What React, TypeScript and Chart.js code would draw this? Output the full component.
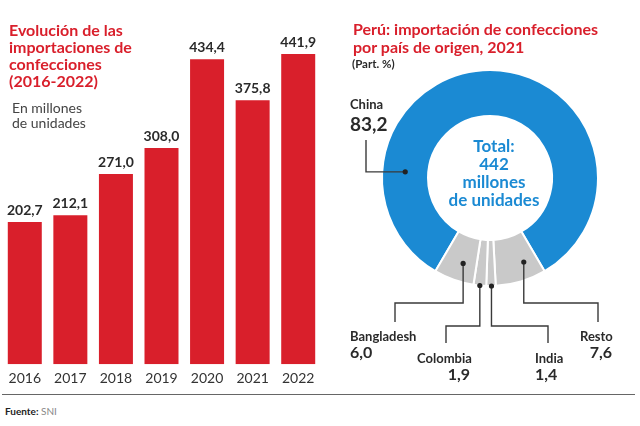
import React, { useEffect, useRef } from "react";
import { Chart, registerables } from "chart.js";
Chart.register(...registerables);

const years = ["2016", "2017", "2018", "2019", "2020", "2021", "2022"];
const imports = [202.7, 212.1, 271.0, 308.0, 434.4, 375.8, 441.9];
const countries = ["China", "Resto", "India", "Colombia", "Bangladesh"];
const shares = [83.2, 7.6, 1.4, 1.9, 6.0];
const totalMillions = 442;

const RED = "#d91f2b";
const BLUE = "#1b8ad3";
const GRAY = "#c9c9c9";
const INK = "#2a2a2a";
const FONT = "Lato, 'Open Sans', sans-serif";

const fmt = (v: number) => v.toFixed(1).replace(".", ",");

// leader-line layout (canvas coordinates of the doughnut canvas)
type Leg = ["h" | "v", number];
const leaders: {
  frac: number;
  radial: number;
  legs: Leg[];
  name: [number, number];
  value: [number, number];
  valueAlign: CanvasTextAlign;
  valueSize: number;
}[] = [
  { frac: 0.213, radial: 0.5, legs: [["h", 46], ["v", 140]], name: [30, 105], value: [30, 125], valueAlign: "left", valueSize: 19 },
  { frac: 0.31, radial: 0.62, legs: [["v", 303], ["h", 278], ["v", 322]], name: [260, 337], value: [292, 353], valueAlign: "right", valueSize: 16 },
  { frac: 0.45, radial: 1.0, legs: [["v", 326], ["h", 228], ["v", 343]], name: [215, 359], value: [215, 375], valueAlign: "left", valueSize: 16 },
  { frac: 0.5, radial: 1.0, legs: [["v", 326], ["h", 126], ["v", 343]], name: [97, 359], value: [150, 375], valueAlign: "right", valueSize: 16 },
  { frac: 0.4, radial: 0.6, legs: [["v", 303], ["h", 75], ["v", 322]], name: [30, 337], value: [30, 353], valueAlign: "left", valueSize: 16 },
];

const barLabels = {
  id: "barLabels",
  afterDatasetsDraw(chart: any) {
    const ctx = chart.ctx;
    const meta = chart.getDatasetMeta(0);
    ctx.save();
    ctx.font = `bold 14px ${FONT}`;
    ctx.fillStyle = INK;
    ctx.textAlign = "center";
    ctx.textBaseline = "alphabetic";
    meta.data.forEach((bar: any, i: number) => {
      ctx.fillText(fmt(imports[i]), bar.x, bar.y - 7);
    });
    ctx.restore();
  },
};

const donutDecor = {
  id: "donutDecor",
  afterDatasetsDraw(chart: any) {
    const ctx = chart.ctx;
    const meta = chart.getDatasetMeta(0);
    ctx.save();
    let cx = 0;
    let cy = 0;
    meta.data.forEach((arc: any, i: number) => {
      const p = arc.getProps(["x", "y", "startAngle", "endAngle", "innerRadius", "outerRadius"], true);
      cx = p.x;
      cy = p.y;
      const L = leaders[i];
      const a = p.startAngle + L.frac * (p.endAngle - p.startAngle);
      const r = p.innerRadius + L.radial * (p.outerRadius - p.innerRadius);
      const dx = p.x + r * Math.cos(a);
      const dy = p.y + r * Math.sin(a);
      ctx.strokeStyle = "#3a3a3a";
      ctx.lineWidth = 1.4;
      ctx.beginPath();
      ctx.moveTo(dx, dy);
      let px = dx;
      let py = dy;
      L.legs.forEach(([dir, v]) => {
        if (dir === "h") px = v;
        else py = v;
        ctx.lineTo(px, py);
      });
      ctx.stroke();
      ctx.fillStyle = "#222";
      ctx.beginPath();
      ctx.arc(dx, dy, 2.6, 0, Math.PI * 2);
      ctx.fill();
      ctx.textBaseline = "middle";
      ctx.fillStyle = INK;
      ctx.textAlign = "left";
      ctx.font = `bold 13px ${FONT}`;
      ctx.fillText(countries[i], L.name[0], L.name[1]);
      ctx.textAlign = L.valueAlign;
      ctx.font = `bold ${L.valueSize}px ${FONT}`;
      ctx.fillText(fmt(shares[i]), L.value[0], L.value[1]);
    });
    ctx.fillStyle = BLUE;
    ctx.textAlign = "center";
    ctx.textBaseline = "middle";
    ctx.font = `bold 17px ${FONT}`;
    const lines = ["Total:", String(totalMillions), "millones", "de unidades"];
    lines.forEach((t, k) => ctx.fillText(t, cx + 4, cy - 31 + k * 17.7));
    ctx.restore();
  },
};

function BarChart() {
  const ref = useRef<HTMLCanvasElement>(null);
  useEffect(() => {
    const chart = new Chart(ref.current!, {
      type: "bar",
      data: {
        labels: years,
        datasets: [
          {
            data: imports,
            backgroundColor: RED,
            borderWidth: 0,
            categoryPercentage: 1,
            barPercentage: 0.746,
          },
        ],
      },
      options: {
        animation: false,
        responsive: false,
        events: [],
        layout: { padding: { left: 2, right: 1, top: 30, bottom: 2 } },
        plugins: { legend: { display: false }, tooltip: { enabled: false } },
        scales: {
          y: { display: false, min: 0, max: 476 },
          x: {
            grid: { display: false, drawTicks: false },
            border: { display: false },
            ticks: { color: "#333", font: { family: FONT, size: 14 }, padding: 6 },
          },
        },
      },
      plugins: [barLabels],
    });
    return () => chart.destroy();
  }, []);
  return <canvas ref={ref} width={322} height={395} style={{ position: "absolute", left: 0, top: 0, width: 322, height: 395 }} />;
}

function DonutChart() {
  const ref = useRef<HTMLCanvasElement>(null);
  useEffect(() => {
    const chart = new Chart(ref.current!, {
      type: "doughnut",
      data: {
        labels: countries,
        datasets: [
          {
            data: shares,
            backgroundColor: [BLUE, GRAY, GRAY, GRAY, GRAY],
            borderColor: "#ffffff",
            borderWidth: 2,
          },
        ],
      },
      options: {
        animation: false,
        responsive: false,
        events: [],
        rotation: -149.6,
        radius: 108,
        cutout: "57.4%",
        layout: { padding: { left: 20, right: 0, top: 0, bottom: 39 } },
        plugins: { legend: { display: false }, tooltip: { enabled: false } },
      } as any,
      plugins: [donutDecor],
    });
    return () => chart.destroy();
  }, []);
  return <canvas ref={ref} width={320} height={395} style={{ position: "absolute", left: 320, top: 0, width: 320, height: 395 }} />;
}

export default function App() {
  const title: React.CSSProperties = {
    position: "absolute",
    fontFamily: FONT,
    fontWeight: 700,
    fontSize: 16,
    color: RED,
    whiteSpace: "nowrap",
  };
  return (
    <div style={{ position: "fixed", left: 0, top: 0, width: 640, height: 426, background: "#fff", overflow: "hidden" }}>
      <BarChart />
      <DonutChart />
      <div style={{ ...title, left: 9, top: 21, lineHeight: "17px" }}>
        Evolución de las
        <br />
        importaciones de
        <br />
        confecciones
        <br />
        (2016-2022)
      </div>
      <div style={{ position: "absolute", left: 12, top: 100, fontFamily: FONT, fontSize: 14, lineHeight: "15px", color: "#444" }}>
        En millones
        <br />
        de unidades
      </div>
      <div style={{ ...title, left: 353, top: 20, lineHeight: "18px" }}>
        Perú: importación de confecciones
        <br />
        por país de origen, 2021
      </div>
      <div style={{ position: "absolute", left: 352, top: 57, fontFamily: FONT, fontWeight: 700, fontSize: 11.5, color: INK }}>(Part. %)</div>
      <div style={{ position: "absolute", left: 2, top: 394, width: 633, height: 0, borderTop: "1.5px solid #666" }} />
      <div style={{ position: "absolute", left: 5, top: 405, fontFamily: FONT, fontSize: 10, color: "#222" }}>
        <b>Fuente:</b> <span style={{ color: "#888" }}>SNI</span>
      </div>
    </div>
  );
}
